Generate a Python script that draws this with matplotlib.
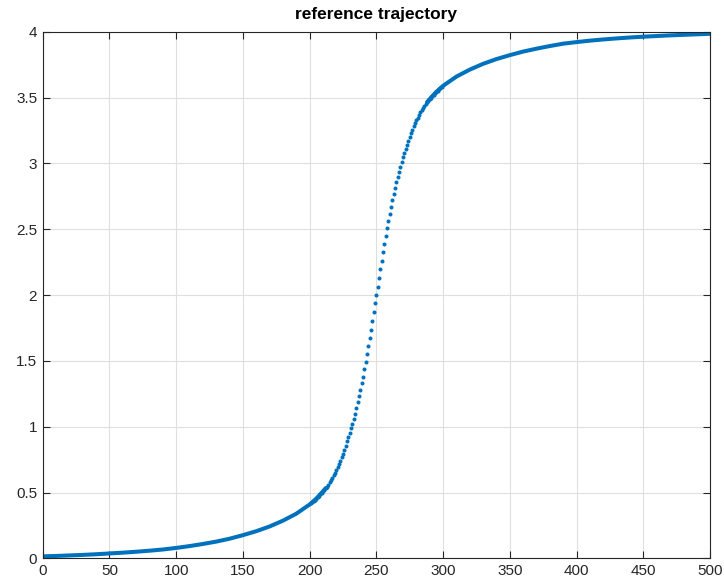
import numpy as np
import matplotlib
matplotlib.use('Agg')
import matplotlib.pyplot as plt

plt.rcParams['font.family'] = ['Liberation Sans', 'DejaVu Sans']

# values
t_low = list(range(0, 201, 10))
y_low = [0.016, 0.019, 0.023, 0.027, 0.032, 0.038, 0.044, 0.051, 0.059, 0.068,
         0.080, 0.094, 0.110, 0.128, 0.150, 0.177, 0.207, 0.243, 0.287, 0.340,
         0.410]

t_mid = list(range(201, 300))
y_mid = [0.419, 0.428, 0.437, 0.446, 0.455, 0.466, 0.477, 0.488, 0.499, 0.510,
         0.522, 0.534, 0.546, 0.561, 0.577, 0.594, 0.612, 0.631, 0.651, 0.672,
         0.695, 0.718, 0.743, 0.769, 0.797, 0.826, 0.857, 0.889, 0.921, 0.954,
         0.989, 1.025, 1.061, 1.100, 1.142, 1.187, 1.233, 1.281, 1.332, 1.382,
         1.436, 1.491, 1.554, 1.615, 1.676, 1.739, 1.802, 1.869, 1.937, 2.000,
         2.063, 2.131, 2.198, 2.261, 2.324, 2.385, 2.446, 2.509, 2.564, 2.618,
         2.668, 2.719, 2.767, 2.813, 2.858, 2.900, 2.939, 2.975, 3.011, 3.046,
         3.079, 3.111, 3.143, 3.174, 3.203, 3.231, 3.257, 3.282, 3.305, 3.328,
         3.349, 3.369, 3.388, 3.406, 3.423, 3.439, 3.454, 3.466, 3.478, 3.490,
         3.501, 3.512, 3.523, 3.534, 3.545, 3.554, 3.563, 3.572, 3.581]

t_high = list(range(300, 501, 10))
y_high = [3.590, 3.660, 3.713, 3.757, 3.793, 3.823, 3.850, 3.872, 3.892, 3.910,
          3.922, 3.933, 3.942, 3.950, 3.957, 3.963, 3.968, 3.973, 3.977, 3.981,
          3.985]

xticks = list(range(0, 501, 50))
yticks = [0, 0.5, 1, 1.5, 2, 2.5, 3, 3.5, 4]
ytick_labels = ['0', '0.5', '1', '1.5', '2', '2.5', '3', '3.5', '4']

blue = '#0072BD'
axcol = '#262626'

fig = plt.figure(figsize=(7.24, 5.86), dpi=100)
ax = fig.add_axes([0.059, 0.047, 0.9217, 0.8987])

# dense parts look like a solid line, steep part shows single dots
lo_t = t_low + t_mid[:12]
lo_y = y_low + y_mid[:12]
hi_t = t_mid[87:] + t_high
hi_y = y_mid[87:] + y_high
ax.plot(lo_t, lo_y, '-', color=blue, lw=2.9, solid_capstyle='round',
        solid_joinstyle='round')
ax.plot(hi_t, hi_y, '-', color=blue, lw=2.9, solid_capstyle='round',
        solid_joinstyle='round')
ax.plot(t_mid, y_mid, 'o', color=blue, ms=2.9, mec='none')

ax.set_xlim(0, 500)
ax.set_ylim(0, 4)
ax.set_xticks(xticks)
ax.set_yticks(yticks)
ax.set_yticklabels(ytick_labels)
ax.tick_params(direction='in', length=5, width=0.8, colors=axcol,
               labelsize=11, top=True, right=True, pad=4)
for s in ax.spines.values():
    s.set_color(axcol)
    s.set_linewidth(0.8)
ax.grid(True, color='#dfdfdf', lw=0.8)
ax.set_axisbelow(True)
ax.set_title('reference trajectory', fontsize=12.5, fontweight='bold', pad=9)

fig.savefig('out.png', dpi=100)
plt.close(fig)
